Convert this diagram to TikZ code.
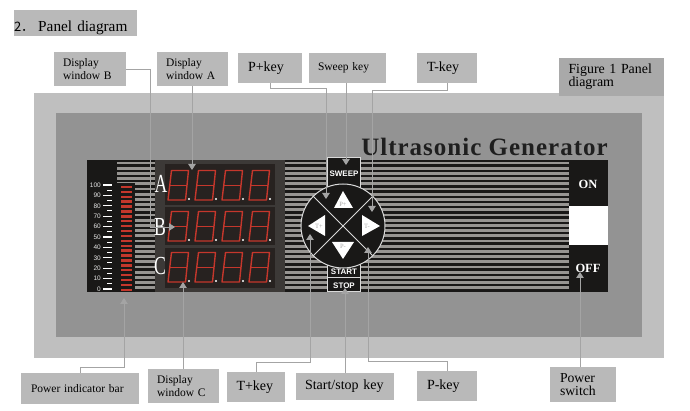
\documentclass[tikz,border=0pt]{standalone}
\usepackage{fontspec}
\setmainfont{Liberation Serif}
\setsansfont{Liberation Sans}
\newfontfamily\cjk{Noto Sans CJK SC}
\newfontfamily\brandfont[LetterSpace=4]{Liberation Serif}
\usetikzlibrary{arrows.meta}
\definecolor{labelgray}{HTML}{B9B9B9}
\definecolor{figuregray}{HTML}{A9A9A9}
\definecolor{outergray}{HTML}{BFBFBF}
\definecolor{innergray}{HTML}{939393}
\definecolor{leadergray}{HTML}{A4A4A4}
\definecolor{stripegray}{HTML}{979592}
\definecolor{panelblack}{HTML}{191817}
\definecolor{ledback}{HTML}{3C3937}
\definecolor{ledwindow}{HTML}{272220}
\definecolor{ledred}{HTML}{C5372C}
\tikzset{
    smallbox/.style={fill=labelgray, inner sep=0pt, text=black, align=left, font=\fontsize{11.5}{13}\selectfont},
    bigbox/.style={fill=labelgray, inner sep=0pt, text=black, align=left, font=\fontsize{14}{14}\selectfont},
    leader/.style={draw=leadergray, line width=0.8pt, -{Triangle[width=7.5pt,length=6pt,fill=leadergray]}},
    keylabel/.style={inner sep=0pt, text=white, font=\sffamily\bfseries\fontsize{8}{8}\selectfont},
    switchlabel/.style={inner sep=0pt, text=white, font=\bfseries\fontsize{12.5}{12.5}\selectfont},
    padlabel/.style={inner sep=0pt, text=black!35, font=\fontsize{6.5}{6.5}\selectfont},
    windowletter/.style={inner sep=0pt, text=white, xscale=0.68, transform shape, font=\fontsize{26}{26}\selectfont},
    scalelabel/.style={inner sep=0pt, anchor=east, text=white!90!black, font=\sffamily\fontsize{6.5}{6.5}\selectfont},
}
\newcommand{\leddigit}[2]{%
    \draw[ledred, line width=1.4pt, line join=round] (#1,#2) -- (#1+3.5,#2-29.5) -- (#1+20.5,#2-29.5) -- (#1+17.5,#2) -- cycle;
    \draw[ledred, line width=1.4pt] (#1+1.8,#2-14.7) -- (#1+19,#2-14.7);
    \fill[white] (#1+21,#2-1) circle (1.1pt);
}

\begin{document}
\begin{tikzpicture}[x=1pt, y=-1pt]
    \useasboundingbox (0,0) rectangle (690,411);

    \fill[outergray] (34,93) rectangle (664,358);
    \fill[innergray] (56,113) rectangle (642,337);
    \fill[panelblack] (87,160) rectangle (608,292);

    \foreach \y in {163,168.2,...,292} {
        \draw[stripegray, line width=2.9pt] (117,\y) -- (155,\y);
        \draw[stripegray, line width=2.9pt] (285,\y) -- (327,\y);
        \draw[stripegray, line width=2.9pt] (360,\y) -- (569,\y);
    }
    \fill[panelblack] (117,183) rectangle (135,292);
    \foreach \y in {187,191.9,...,290} {
        \draw[ledred, line width=2.4pt] (121,\y) -- (132,\y);
    }
    \foreach \v in {0,10,...,100} {
        \node[scalelabel] (scale\v) at (101,289-\v*1.04) {\v};
        \draw[white, line width=1.2pt] (103,289-\v*1.04) -- (112,289-\v*1.04);
    }
    \foreach \v in {5,15,...,95} {
        \draw[white, line width=1pt] (107,289-\v*1.04) -- (112,289-\v*1.04);
    }

    \fill[ledback] (155,160) rectangle (285,292);
    \fill[ledwindow] (165,164) rectangle (275,205);
    \fill[ledwindow] (165,207) rectangle (275,245);
    \fill[ledwindow] (165,248) rectangle (275,288);
    \foreach \y in {200,241,282} {
        \foreach \x in {168,195,222,249} {
            \leddigit{\x}{\y}
        }
    }
    \node[windowletter] (letterA) at (161,184) {A};
    \node[windowletter] (letterB) at (160,227) {B};
    \node[windowletter] (letterC) at (160,266) {C};

    \draw[white!85!black, fill=panelblack, line width=1pt] (327,158) rectangle (360,195);
    \draw[white!85!black, fill=panelblack, line width=1pt] (327,258) rectangle (360,278);
    \draw[white!85!black, fill=panelblack, line width=1pt] (327,278) rectangle (360,292);
    \node[keylabel] (sweeplabel) at (344,174) {SWEEP};
    \node[keylabel] (startlabel) at (344,272) {START};
    \node[keylabel] (stoplabel) at (344,285.5) {STOP};

    \node[draw=white!85!black, fill=panelblack, line width=1pt, circle, minimum size=84pt, inner sep=0pt] (keypad) at (343,226) {};
    \draw[white!85!black, line width=1pt] (keypad.45) -- (keypad.225);
    \draw[white!85!black, line width=1pt] (keypad.135) -- (keypad.315);
    \fill[white] (343,191) -- (353,208) -- (334,208) -- cycle;
    \fill[white] (343,259) -- (354,242) -- (332,242) -- cycle;
    \fill[white] (308,226) -- (325,215) -- (325,236) -- cycle;
    \fill[white] (380,226) -- (362,215) -- (362,236) -- cycle;
    \node[padlabel] (pplustext) at (343,204) {P+};
    \node[padlabel] (pminustext) at (343,246) {P-};
    \node[padlabel] (tplustext) at (319,226) {T+};
    \node[padlabel] (tminustext) at (367,226) {T-};

    \fill[white] (569,206) rectangle (608,245);
    \node[switchlabel] (onlabel) at (588,184) {ON};
    \node[switchlabel] (offlabel) at (588,268) {OFF};
    \node[inner sep=0pt, text=black!88, font=\brandfont\bfseries\fontsize{25}{25}\selectfont] (brand) at (484.5,147) {Ultrasonic Generator};

    \node[fill=labelgray, text width=123pt, text height=22pt, text depth=4pt, inner sep=0pt, align=left, font=\fontsize{15.3}{15.3}\selectfont, text=black] (heading) at (75.5,23) {{\cjk\fontsize{13}{13}\selectfont 2．}\hspace{4pt}Panel diagram};

    \node[smallbox, minimum width=72pt, minimum height=34pt, text width=54pt] (winbbox) at (90,69) {Display\\window B};
    \node[smallbox, minimum width=71pt, minimum height=34pt, text width=53pt] (winabox) at (192.5,69) {Display\\window A};
    \node[bigbox, minimum width=64pt, minimum height=30pt, text width=44pt] (pplusbox) at (270,68) {P+key};
    \node[smallbox, minimum width=77pt, minimum height=30pt, text width=59pt] (sweepbox) at (347.5,68) {Sweep key};
    \node[bigbox, minimum width=60pt, minimum height=30pt, text width=40pt] (tminusbox) at (447,68) {T-key};
    \node[fill=figuregray, minimum width=105pt, minimum height=38pt, text width=86pt, inner sep=0pt, align=left, text=black, font=\fontsize{13.9}{13.3}\selectfont] (figurebox) at (611.5,77) {Figure 1 Panel\\diagram};
    \node[smallbox, minimum width=118pt, minimum height=31pt, text width=98pt] (powerbarbox) at (80,388.5) {Power indicator bar};
    \node[smallbox, minimum width=71pt, minimum height=34pt, text width=53pt] (wincbox) at (183.5,386) {Display\\window C};
    \node[bigbox, minimum width=58pt, minimum height=30pt, text width=39pt] (tplusbox) at (256,387) {T+key};
    \node[bigbox, minimum width=98pt, minimum height=27pt, text width=80pt] (startbox) at (345,386.5) {Start/stop key};
    \node[bigbox, minimum width=60pt, minimum height=30pt, text width=40pt] (pminusbox) at (447,386) {P-key};
    \node[bigbox, minimum width=66pt, minimum height=35pt, text width=46pt, font=\fontsize{13.7}{13}\selectfont] (switchbox) at (583,384.5) {Power\\switch};

    \coordinate (winbtip) at (175,227);
    \coordinate (winatip) at (192,170);
    \coordinate (pplustip) at (326,199);
    \coordinate (sweeptip) at (346,165);
    \coordinate (tminustip) at (372,212);
    \coordinate (powerbartip) at (124,298);
    \coordinate (winctip) at (183,282);
    \coordinate (tplustip) at (310,234);
    \coordinate (starttip) at (345,288);
    \coordinate (pminustip) at (368,247);
    \coordinate (switchtip) at (580,272);

    \draw[leader] (winbbox.east) -- (150,69) |- (winbtip);
    \draw[leader] (winabox.south -| winatip) -- (winatip);
    \draw[leader] (pplusbox.south) -- ++(0,5) -| (pplustip);
    \draw[leader] (sweepbox.south -| sweeptip) -- (sweeptip);
    \draw[leader] (tminusbox.south) -- ++(0,7) -| (tminustip);
    \draw[leader] (powerbarbox.north) -- ++(0,-5) -| (powerbartip);
    \draw[leader] (wincbox.north -| winctip) -- (winctip);
    \draw[leader] (tplusbox.north) -- ++(0,-9) -| (tplustip);
    \draw[leader] (startbox.north -| starttip) -- (starttip);
    \draw[leader] (pminusbox.north) -- ++(0,-9) -| (pminustip);
    \draw[leader] (switchbox.north -| switchtip) -- (switchtip);
\end{tikzpicture}
\end{document}
